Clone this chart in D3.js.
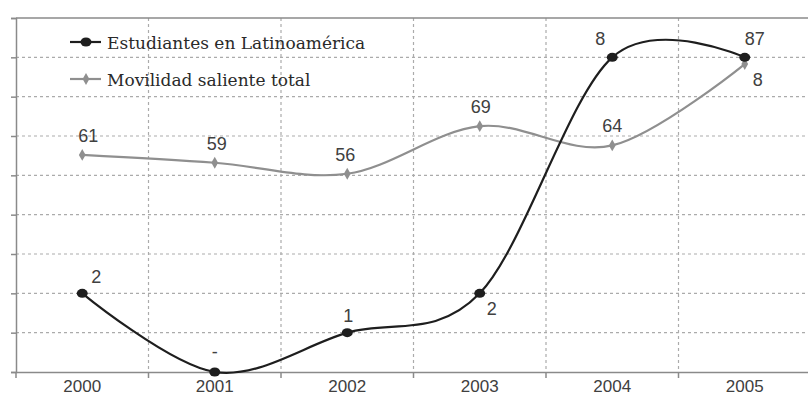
<!DOCTYPE html>
<html><head><meta charset="utf-8">
<script src="https://cdn.jsdelivr.net/npm/d3@7"></script>
<style>body{margin:0;background:#fff}svg{display:block}</style>
</head><body>
<svg id="c" width="808" height="397"></svg>
<script>
// ---- data ----
const years = ["2000","2001","2002","2003","2004","2005"];
const seriesNames = ["Estudiantes en Latinoamérica","Movilidad saliente total"];
const estudiantes = [20, 0, 10, 20, 80, 80];
const movilidad = [55.2, 53.2, 50.4, 62.5, 57.6, 78.3];
const estudiantesLabels = ["2", "-", "1", "2", "8", "87"];
const movilidadLabels = ["61", "59", "56", "69", "64", "8"];
const yTicks = [0,10,20,30,40,50,60,70,80,90];

// label placement (dx, dy relative to point)
const estPlace = [[14,-10],[0,-14],[1,-11],[12,22],[-12,-12],[10,-12]];
const movPlace = [[6,-13],[2,-13],[-2,-13],[1,-13],[0,-13],[13,22]];

const svg = d3.select("#c");
const m = {left:16, top:18};
const W = 808;
const x = d3.scaleBand().domain(years).range([m.left, m.left + 6*132.5]).padding(0);
const y = d3.scaleLinear().domain([0,90]).range([372, 18]);
const cx = d => x(d) + x.bandwidth()/2;

const numFont = "'Liberation Sans', Arial, sans-serif";
const numColor = "#404040";

// grid
const g = svg.append("g");
g.selectAll("line.h").data(yTicks.filter(t => t>0 && t<90)).join("line")
  .attr("x1", m.left).attr("x2", W).attr("y1", d=>y(d)).attr("y2", d=>y(d))
  .attr("stroke","#ababab").attr("stroke-width",1.2).attr("stroke-dasharray","3,3");
g.selectAll("line.v").data(years.slice(1)).join("line")
  .attr("x1", d=>x(d)).attr("x2", d=>x(d)).attr("y1", 18).attr("y2", 372)
  .attr("stroke","#ababab").attr("stroke-width",1.2).attr("stroke-dasharray","3,3");
// top border
svg.append("line").attr("x1",m.left).attr("x2",W).attr("y1",18).attr("y2",18)
  .attr("stroke","#8a8a8a").attr("stroke-width",1.5);

// y axis (no labels)
const ya = svg.append("g").attr("transform",`translate(${m.left},0)`)
  .call(d3.axisLeft(y).tickValues(yTicks).tickSize(5).tickFormat(""));
ya.selectAll("path,line").attr("stroke","#8a8a8a").attr("stroke-width",1.5);

// x axis
const xa = svg.append("g").attr("transform","translate(0,372)")
  .call(d3.axisBottom(x).tickSize(0).tickPadding(0));
xa.select(".domain").attr("stroke","#8a8a8a").attr("stroke-width",1.5);
xa.selectAll(".tick text").attr("y", 0).attr("dy", 20)
  .attr("font-family",numFont).attr("font-size",17).attr("fill",numColor);
svg.append("g").selectAll("line").data(years).join("line")
  .attr("x1", d=>x(d)).attr("x2", d=>x(d)).attr("y1",372).attr("y2",378)
  .attr("stroke","#8a8a8a").attr("stroke-width",1.5);

const line = d3.line().x(d=>d[0]).y(d=>d[1]).curve(d3.curveCardinal.tension(0));

function drawSeries(vals, color, marker) {
  const pts = vals.map((v,i)=>[cx(years[i]), y(v)]);
  svg.append("path").attr("d", line(pts)).attr("fill","none")
    .attr("stroke", color).attr("stroke-width", 2.2);
  if (marker === "circle") {
    svg.append("g").selectAll("ellipse").data(pts).join("ellipse")
      .attr("cx",d=>d[0]).attr("cy",d=>d[1]).attr("rx",5.5).attr("ry",4.5).attr("fill",color);
  } else {
    svg.append("g").selectAll("path").data(pts).join("path")
      .attr("d", d3.symbol().type(d3.symbolDiamond).size(40))
      .attr("transform", d=>`translate(${d[0]},${d[1]})`).attr("fill",color);
  }
  return pts;
}
const movPts = drawSeries(movilidad, "#8f8f8f", "diamond");
const estPts = drawSeries(estudiantes, "#1e1e1e", "circle");

function labels(pts, txt, place) {
  svg.append("g").selectAll("text").data(pts).join("text")
    .attr("x",(d,i)=>d[0]+place[i][0]).attr("y",(d,i)=>d[1]+place[i][1])
    .attr("text-anchor","middle")
    .attr("font-family",numFont).attr("font-size",18).attr("fill",numColor)
    .text((d,i)=>txt[i]);
}
labels(movPts, movilidadLabels, movPlace);
labels(estPts, estudiantesLabels, estPlace);

// legend
const leg = svg.append("g");
const legItems = [
  {name: seriesNames[0], color:"#1e1e1e", marker:"circle", y:42},
  {name: seriesNames[1], color:"#8f8f8f", marker:"diamond", y:79}
];
legItems.forEach(it => {
  leg.append("line").attr("x1",70).attr("x2",101).attr("y1",it.y).attr("y2",it.y)
    .attr("stroke",it.color).attr("stroke-width",2.2);
  if (it.marker==="circle") leg.append("ellipse").attr("cx",86).attr("cy",it.y).attr("rx",5.5).attr("ry",4.5).attr("fill",it.color);
  else leg.append("path").attr("d", d3.symbol().type(d3.symbolDiamond).size(40)())
    .attr("transform",`translate(86,${it.y})`).attr("fill",it.color);
  leg.append("text").attr("x",107).attr("y",it.y+7)
    .attr("font-family","'DejaVu Serif', serif").attr("font-size",17).attr("fill","#2a2a2a")
    .text(it.name);
});
</script>
</body></html>
